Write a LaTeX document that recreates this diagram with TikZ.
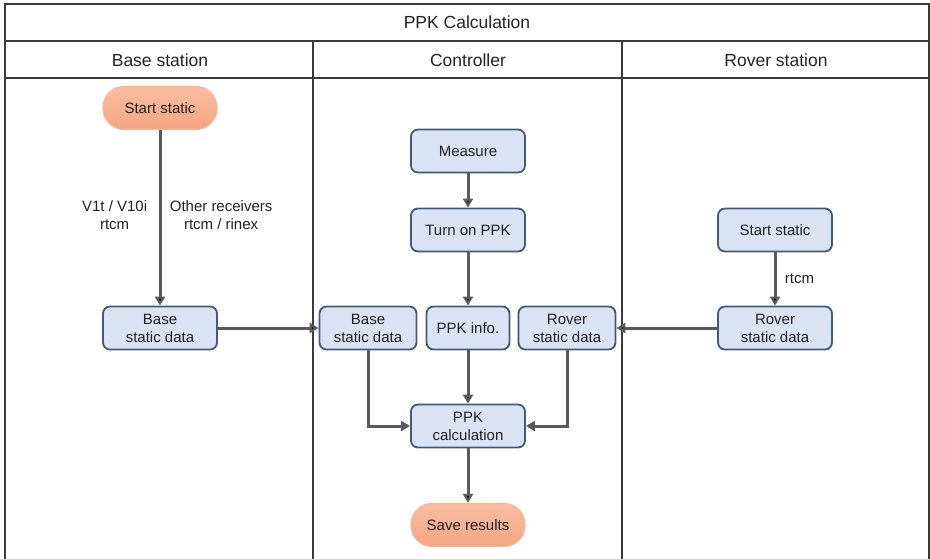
\documentclass[tikz,border=0pt]{standalone}
\usepackage{fontspec}
\setmainfont{Liberation Sans}
\usepackage{tikz}
\usetikzlibrary{arrows.meta,shapes,positioning}

\definecolor{boxfill}{HTML}{DAE3F3}
\definecolor{boxline}{HTML}{41597A}
\definecolor{termtop}{HTML}{F8BEA2}
\definecolor{termbot}{HTML}{F4A582}
\definecolor{termline}{HTML}{F4B69A}
\definecolor{flowline}{HTML}{5A5A5A}
\definecolor{laneline}{HTML}{3A3A3A}
\definecolor{inktext}{HTML}{222222}

\begin{document}
\begin{tikzpicture}
          [x=1pt,y=-1pt,text=inktext,font=\fontsize{15}{18}\selectfont]
          \tikzstyle{procbox}=[draw=boxline,fill=boxfill,line width=1.8pt,rounded corners=7pt,
            align=center,minimum width=114pt,minimum height=43pt,inner sep=3pt]
          \tikzstyle{termbox}=[draw=termline,top color=termtop,bottom color=termbot,line width=1.2pt,
            rounded corners=21pt,minimum width=114pt,minimum height=43pt]
          \tikzstyle{lane}=[draw=laneline,line width=1.6pt]
          \tikzstyle{flow}=[-{Triangle[length=9pt,width=10pt]},line width=3pt,draw=flowline]
          \tikzstyle{lanetitle}=[font=\fontsize{17.5}{21}\selectfont]

          \useasboundingbox (0,0) rectangle (930,558);

          % lanes
          \draw[lane] (5,575) -- (5,4) -- (929,4) -- (929,575);
          \draw[lane] (5,41) -- (929,41);
          \draw[lane] (5,78) -- (929,78);
          \draw[lane] (313,41) -- (313,575);
          \draw[lane] (622,41) -- (622,575);

          \node[lanetitle] (title) at (467,22) {PPK Calculation};
          \node[lanetitle] (tbase) at (160,60) {Base station};
          \node[lanetitle] (tctrl) at (468,60) {Controller};
          \node[lanetitle] (trover) at (776,60) {Rover station};

          % base station
          \node[termbox] (bstart) at (160,108) {Start static};
          \node[procbox] (bdata) at (160,328) {Base\\static data};

          % controller
          \node[procbox] (meas) at (468,151) {Measure};
          \node[procbox] (ppkon) at (468,230) {Turn on PPK};
          \node[procbox,minimum width=83pt] (info) at (468,328) {PPK info.};
          \node[procbox,minimum width=97pt] (cbase) at (368,328) {Base\\static data};
          \node[procbox,minimum width=97pt] (crover) at (567,328) {Rover\\static data};
          \node[procbox] (calc) at (468,426) {PPK\\calculation};
          \node[termbox] (save) at (468,525) {Save results};

          % rover station
          \node[procbox] (rstart) at (775,230) {Start static};
          \node[procbox] (rdata) at (775,328) {Rover\\static data};

          \path[flow]
          (bstart) edge node[left=8pt,align=center,yshift=3pt] {V1t / V10i\\rtcm}
                        node[right=5pt,align=center,yshift=3pt] {Other receivers\\rtcm / rinex} (bdata)
          (bdata) edge (cbase)
          (meas) edge (ppkon)
          (ppkon) edge (info)
          (info) edge (calc)
          (calc) edge (save)
          (rstart) edge node[right=5pt] {rtcm} (rdata)
          (rdata) edge (crover)
          ;
          \draw[flow] (cbase) |- (calc);
          \draw[flow] (crover) |- (calc);
        \end{tikzpicture}
\end{document}
